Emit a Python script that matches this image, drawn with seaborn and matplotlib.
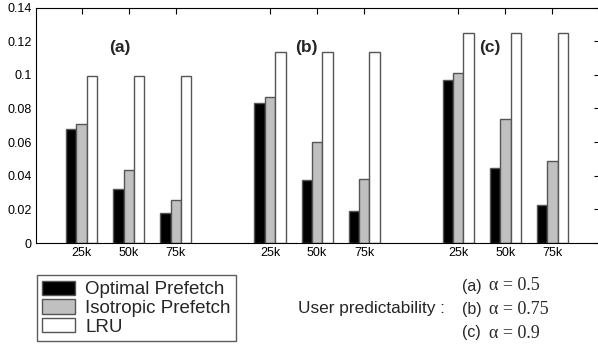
import pandas as pd
import matplotlib.pyplot as plt
import seaborn as sns
from matplotlib.ticker import FormatStrFormatter

# data
sizes = ['25k', '50k', '75k']
settings = ['(a)', '(b)', '(c)']
alphas = ['0.5', '0.75', '0.9']
methods = ['Optimal Prefetch', 'Isotropic Prefetch', 'LRU']
optimal = [0.068, 0.032, 0.018, 0.083, 0.0376, 0.019, 0.097, 0.0448, 0.0228]
isotropic = [0.0706, 0.0436, 0.0254, 0.087, 0.060, 0.038, 0.101, 0.0735, 0.0486]
lru = [0.0995, 0.0995, 0.0995, 0.1137, 0.1137, 0.1137, 0.1247, 0.1247, 0.1247]

colors = ['#000000', '#c0c0c0', '#ffffff']

rows = []
for m, vals in zip(methods, [optimal, isotropic, lru]):
    for i, v in enumerate(vals):
        g, s = divmod(i, 3)
        rows.append({'pos': g * 4 + s + 1, 'size': sizes[s], 'method': m, 'value': v})
df = pd.DataFrame(rows)

sns.set_style('white')
plt.rcParams['font.family'] = ['Liberation Sans', 'DejaVu Sans']

fig = plt.figure(figsize=(5.98, 3.45), dpi=100)
ax = fig.add_axes([36 / 598, 102 / 345, 563.5 / 598, 235.5 / 345])

sns.barplot(data=df, x='pos', y='value', hue='method', hue_order=methods,
            native_scale=True, width=0.66, gap=0, palette=colors, saturation=1,
            edgecolor='#555555', linewidth=1, ax=ax)

ax.set_xlim(0.03, 12.0)
ax.set_ylim(0, 0.14)
ax.set_xticks(df['pos'].unique())
ax.set_xticklabels(sizes * 3)
ax.set_yticks([0, 0.02, 0.04, 0.06, 0.08, 0.1, 0.12, 0.14])
ax.yaxis.set_major_formatter(FormatStrFormatter('%g'))
ax.set_xlabel('')
ax.set_ylabel('')
ax.tick_params(direction='in', top=True, right=True, length=4, width=0.8,
               labelsize=9, pad=3, colors='black')
for sp in ax.spines.values():
    sp.set_color('black')
    sp.set_linewidth(0.8)

for lab, x in zip(settings, [1.81, 5.78, 9.68]):
    ax.text(x, 0.116, lab, ha='center', va='center', fontsize=12.5, fontweight='bold')

handles, labels = ax.get_legend_handles_labels()
ax.get_legend().remove()
leg = fig.legend(handles, labels, loc='upper left', bbox_to_anchor=(36.7 / 598, 1 - 275 / 345),
                 fontsize=13.5, frameon=True, fancybox=False, borderaxespad=0,
                 borderpad=0.3, handlelength=1.76, handleheight=0.8, handletextpad=0.53,
                 labelspacing=0.05)
leg.get_frame().set_edgecolor('#333333')
leg.get_frame().set_linewidth(1)

fig.text(297.7 / 598, 1 - 309 / 345, 'User predictability :', ha='left', va='center', fontsize=12.4)
for i, (lab, a) in enumerate(zip(settings, alphas)):
    y = 1 - (286 + 23.5 * i) / 345
    fig.text(461.7 / 598, y, lab, ha='left', va='center', fontsize=11.5)
    fig.text(489 / 598, y, '\u03b1 = ' + a, ha='left', va='center', fontsize=13,
             family=['Liberation Serif', 'DejaVu Serif'])

fig.savefig('out.png', dpi=100)
